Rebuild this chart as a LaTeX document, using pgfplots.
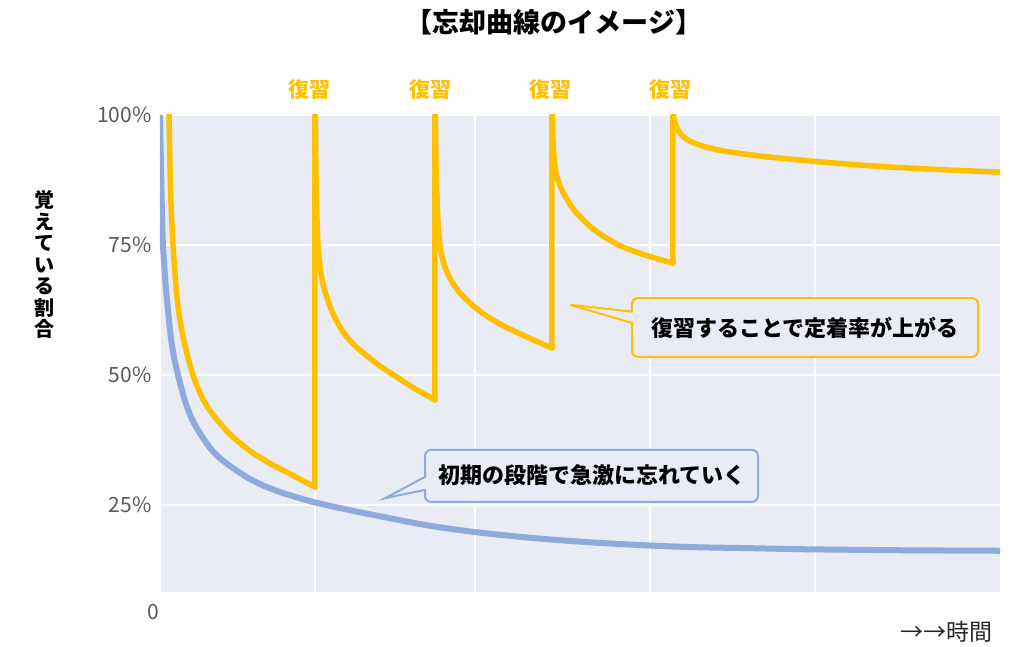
\documentclass[border=0pt]{standalone}
\usepackage{pgfplots}
\pgfplotsset{compat=1.18}
\usepackage{fontspec}
\setmainfont{Noto Sans CJK JP}

\definecolor{gold}{HTML}{FFC000}
\definecolor{lblue}{HTML}{8FAADC}
\definecolor{plotbg}{HTML}{E9EBF5}
\definecolor{tickgray}{HTML}{595959}

\begin{document}
\begin{tikzpicture}
\begin{axis}[
    name=ax,
    scale only axis,
    width=840pt, height=477pt,
    xmin=0, xmax=840, ymin=8.27, ymax=100,
    axis background/.style={fill=plotbg},
    axis line style={draw=none},
    major tick length=0pt,
    xtick={0,155,315,490,655}, xticklabels={0,,,,},
    ytick={25,50,75,100}, yticklabels={25\%,50\%,75\%,100\%},
    grid=major, grid style={white, line width=1.5pt},
    /pgf/number format/assume math mode=true,
    ticklabel style={font=\fontsize{21}{24}\selectfont, text=tickgray},
    yticklabel style={xshift=-5pt},
    xticklabel style={anchor=center, yshift=-20pt, xshift=-7pt},
    clip mode=individual,
    rev/.style={gold, line width=5.5pt, smooth, line cap=round},
]
% without review
\addplot[lblue, line width=6pt, smooth] coordinates {
 (0,100) (1,90) (2,81) (3,75) (5,69) (7,64.4) (11,57) (14,53.5) (18,50)
 (25,45) (32,41.5) (40,38.8) (50,36) (60,34) (73,32.1) (90,30) (105,28.6)
 (123,27.3) (140,26.3) (157,25.4) (190,24.0) (234,22.3) (270,21) (315,19.8)
 (370,18.7) (424,17.9) (480,17.3) (532,16.9) (590,16.7) (641,16.5)
 (740,16.3) (840,16.2)
};
% with review, one piece per review
\addplot[rev] coordinates {
 (9,100) (10,90) (11,83) (13,75) (16,67) (19,61.7) (23,57.4) (28,53.3) (33,50)
 (40,46.5) (48,43.7) (57,41.4) (70,38.6) (90,35.4) (110,33) (130,31) (155,28.4)
};
\addplot[rev] coordinates {
 (155,28.4) (155,100) (156,88) (157,80) (158,75) (160,71) (163,67.5) (168,64.2)
 (175,61) (183,58.3) (193,56) (203,54.3) (218,52) (233,50.1) (253,47.6) (275,45.2)
};
\addplot[rev] coordinates {
 (275,45.2) (275,100) (276,90) (277,84) (278,79.5) (280,75) (283,72) (287,69.8)
 (293,67.6) (300,65.8) (307,64.4) (317,62.7) (327,61.3) (342,59.6) (357,58.2)
 (375,56.6) (392,55.2)
};
\addplot[rev] coordinates {
 (392,55.2) (392,100) (393,95) (395,90) (398,87.5) (402,85.5) (407,83.8)
 (415,81.5) (430,78.6) (445,76.5) (463,74.6) (488,72.9) (513,71.5)
};
\addplot[rev] coordinates {
 (513,71.5) (513,100) (514,99) (517,97.5) (520,96.5) (527,95.3) (537,94.4)
 (547,93.8) (560,93.2) (580,92.6) (610,91.9) (653,91.1) (713,90.2) (780,89.5)
 (840,89)
};

% callouts
\draw[gold, line width=2pt, fill=plotbg]
  (410,63.5) -- (472,60.0) [rounded corners=6pt] -- (472,53.5) -- (818,53.5)
  -- (818,64.8) -- (472,64.8) [sharp corners] -- (472,62.2) -- cycle;
\node[font=\fontsize{22}{24}\selectfont\bfseries] at (645,59.0) {復習することで定着率が上がる};

\draw[lblue, line width=2pt, fill=plotbg]
  (225,26.3) -- (265,27.9) [rounded corners=6pt] -- (265,25.6) -- (598,25.6)
  -- (598,35.6) -- (265,35.6) [sharp corners] -- (265,30.4) -- cycle;
\node[font=\fontsize{22}{24}\selectfont\bfseries] at (432,30.8) {初期の段階で急激に忘れていく};

% review marks
\node[font=\fontsize{21}{22}\selectfont\bfseries, text=gold] at (150,104.8) {復習};
\node[font=\fontsize{21}{22}\selectfont\bfseries, text=gold] at (270,104.8) {復習};
\node[font=\fontsize{21}{22}\selectfont\bfseries, text=gold] at (390,104.8) {復習};
\node[font=\fontsize{21}{22}\selectfont\bfseries, text=gold] at (510,104.8) {復習};

\node[font=\fontsize{27}{30}\selectfont\bfseries] at (394,117.9) {【忘却曲線のイメージ】};
\node[font=\fontsize{20}{21.5}\selectfont\bfseries, align=center, inner sep=0pt]
  at (-115,71.2) {覚\\え\\て\\い\\る\\割\\合};
\node[font=\fontsize{23}{26}\selectfont, anchor=east, text=black!85] at (836,0.6) {→→時間};
\end{axis}
\path (ax.south west) ++(-160pt,-54pt) rectangle ++(1020pt,646pt);
\end{tikzpicture}
\end{document}
